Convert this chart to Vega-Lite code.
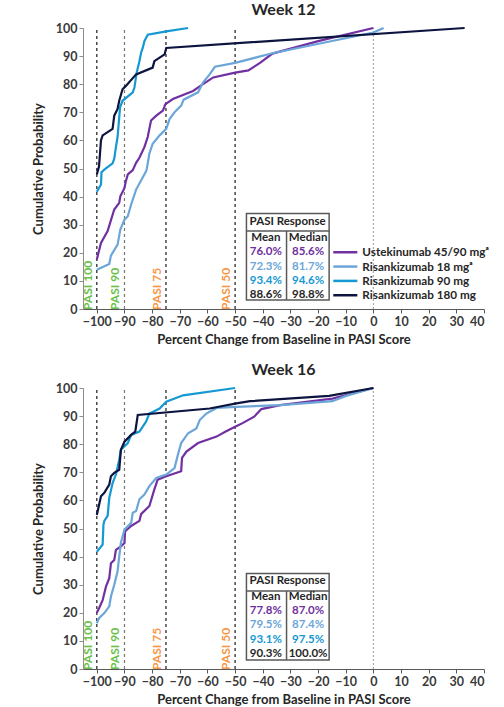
{
  "$schema": "https://vega.github.io/schema/vega-lite/v6.json",
  "padding": {"left": 32, "top": 2, "right": 5, "bottom": 2},
  "spacing": 15,
  "config": {
    "view": {"stroke": null},
    "font": "Lato",
    "axis": {"grid": false, "labelFont": "Lato", "labelFontWeight": "bold", "labelFontSize": 12.5, "labelColor": "#3a3a3a", "titleFont": "Lato", "titleFontWeight": "bold", "titleFontSize": 13, "titleColor": "#262626", "domainColor": "#595959", "tickColor": "#595959", "tickSize": 4, "labelPadding": 2},
    "axisX": {"tickCount": 15, "titlePadding": 6},
    "axisY": {"tickCount": 10, "domainColor": "#8c8c8c", "tickColor": "#8c8c8c", "titlePadding": 10},
    "title": {"font": "Lato", "fontSize": 16, "fontWeight": "bold", "color": "#262626", "anchor": "middle"}
  },
  "datasets": {
    "refs": [
      {"x": -100, "y": 0, "y2": 100, "k": "PASI 100"},
      {"x": -90, "y": 0, "y2": 100, "k": "PASI 90"},
      {"x": -75, "y": 0, "y2": 100, "k": "PASI 75"},
      {"x": -50, "y": 0, "y2": 100, "k": "PASI 50"},
      {"x": 0, "y": 0, "y2": 100, "k": "zero"}
    ],
    "box": [{"x": -45.9, "x2": -16, "y": 3.2, "y2": 34}],
    "seps": [
      {"x": -45.9, "x2": -16, "y": 27.8, "y2": 27.8},
      {"x": -31.4, "x2": -31.4, "y": 3.2, "y2": 27.8}
    ],
    "table": [
      {"w": 12, "k": "H", "x": -31, "y": 30.9, "t": "PASI Response"},
      {"w": 12, "k": "H", "x": -38.9, "y": 25.3, "t": "Mean"},
      {"w": 12, "k": "H", "x": -23.6, "y": 25.3, "t": "Median"},
      {"w": 12, "k": "U", "x": -38.9, "y": 20.2, "t": "76.0%"},
      {"w": 12, "k": "U", "x": -23.6, "y": 20.2, "t": "85.6%"},
      {"w": 12, "k": "R18", "x": -38.9, "y": 15.1, "t": "72.3%"},
      {"w": 12, "k": "R18", "x": -23.6, "y": 15.1, "t": "81.7%"},
      {"w": 12, "k": "R90", "x": -38.9, "y": 10.0, "t": "93.4%"},
      {"w": 12, "k": "R90", "x": -23.6, "y": 10.0, "t": "94.6%"},
      {"w": 12, "k": "R180", "x": -38.9, "y": 4.9, "t": "88.6%"},
      {"w": 12, "k": "R180", "x": -23.6, "y": 4.9, "t": "98.8%"},
      {"w": 16, "k": "H", "x": -31, "y": 31.3, "t": "PASI Response"},
      {"w": 16, "k": "H", "x": -38.9, "y": 25.7, "t": "Mean"},
      {"w": 16, "k": "H", "x": -23.6, "y": 25.7, "t": "Median"},
      {"w": 16, "k": "U", "x": -38.9, "y": 20.6, "t": "77.8%"},
      {"w": 16, "k": "U", "x": -23.6, "y": 20.6, "t": "87.0%"},
      {"w": 16, "k": "R18", "x": -38.9, "y": 15.5, "t": "79.5%"},
      {"w": 16, "k": "R18", "x": -23.6, "y": 15.5, "t": "87.4%"},
      {"w": 16, "k": "R90", "x": -38.9, "y": 10.4, "t": "93.1%"},
      {"w": 16, "k": "R90", "x": -23.6, "y": 10.4, "t": "97.5%"},
      {"w": 16, "k": "R180", "x": -38.9, "y": 5.3, "t": "90.3%"},
      {"w": 16, "k": "R180", "x": -23.6, "y": 5.3, "t": "100.0%"}
    ],
    "legend": [
      {"g": "U", "x": -14.5, "x2": -5.8, "y": 20.2, "t": "Ustekinumab 45/90 mgᵃ"},
      {"g": "R18", "x": -14.5, "x2": -5.8, "y": 15.1, "t": "Risankizumab 18 mgᵃ"},
      {"g": "R90", "x": -14.5, "x2": -5.8, "y": 10.0, "t": "Risankizumab  90 mg"},
      {"g": "R180", "x": -14.5, "x2": -5.8, "y": 4.9, "t": "Risankizumab 180 mg"}
    ],
    "curves": [
      {"w":12,"g":"U","x":-100,"y":17.6},{"w":12,"g":"U","x":-99.4,"y":20},{"w":12,"g":"U","x":-98.5,"y":23.5},{"w":12,"g":"U","x":-96.1,"y":27.7},{"w":12,"g":"U","x":-93.7,"y":35.4},{"w":12,"g":"U","x":-91.9,"y":37.8},{"w":12,"g":"U","x":-91.5,"y":40.1},{"w":12,"g":"U","x":-90,"y":43.1},{"w":12,"g":"U","x":-89.5,"y":45.5},{"w":12,"g":"U","x":-88.8,"y":47.9},{"w":12,"g":"U","x":-87,"y":49.4},{"w":12,"g":"U","x":-85.8,"y":52},{"w":12,"g":"U","x":-84.6,"y":53.8},{"w":12,"g":"U","x":-82.8,"y":57.6},{"w":12,"g":"U","x":-81.6,"y":61.2},{"w":12,"g":"U","x":-80.4,"y":67.1},{"w":12,"g":"U","x":-78.5,"y":68.8},{"w":12,"g":"U","x":-76.1,"y":70.6},{"w":12,"g":"U","x":-75.2,"y":72.9},{"w":12,"g":"U","x":-72.5,"y":74.7},{"w":12,"g":"U","x":-65.2,"y":77.6},{"w":12,"g":"U","x":-61.6,"y":80},{"w":12,"g":"U","x":-57.9,"y":82.4},{"w":12,"g":"U","x":-50,"y":84.1},{"w":12,"g":"U","x":-45.2,"y":84.9},{"w":12,"g":"U","x":-41,"y":87.6},{"w":12,"g":"U","x":-36.5,"y":90.9},{"w":12,"g":"U","x":-19.6,"y":95.4},{"w":12,"g":"U","x":0,"y":100},
      {"w":12,"g":"R18","x":-100,"y":14},{"w":12,"g":"R18","x":-95.5,"y":16},{"w":12,"g":"R18","x":-94.9,"y":19},{"w":12,"g":"R18","x":-92.5,"y":22.9},{"w":12,"g":"R18","x":-91.5,"y":28.3},{"w":12,"g":"R18","x":-90,"y":31.8},{"w":12,"g":"R18","x":-88.8,"y":33},{"w":12,"g":"R18","x":-87.6,"y":37.2},{"w":12,"g":"R18","x":-85.8,"y":42.5},{"w":12,"g":"R18","x":-82.2,"y":49},{"w":12,"g":"R18","x":-81.9,"y":50},{"w":12,"g":"R18","x":-81,"y":55.3},{"w":12,"g":"R18","x":-79.8,"y":58.8},{"w":12,"g":"R18","x":-77.3,"y":61.8},{"w":12,"g":"R18","x":-74.9,"y":64.1},{"w":12,"g":"R18","x":-73.7,"y":67.6},{"w":12,"g":"R18","x":-71.9,"y":70},{"w":12,"g":"R18","x":-69.5,"y":72.4},{"w":12,"g":"R18","x":-68.6,"y":74.5},{"w":12,"g":"R18","x":-63.4,"y":77.1},{"w":12,"g":"R18","x":-61.6,"y":80.6},{"w":12,"g":"R18","x":-59.2,"y":83.5},{"w":12,"g":"R18","x":-57.3,"y":86.2},{"w":12,"g":"R18","x":-50,"y":87.6},{"w":12,"g":"R18","x":-36.5,"y":91},{"w":12,"g":"R18","x":0,"y":98.4},{"w":12,"g":"R18","x":3.7,"y":100},
      {"w":12,"g":"R90","x":-100,"y":41.7},{"w":12,"g":"R90","x":-98.5,"y":44.3},{"w":12,"g":"R90","x":-98.3,"y":48.7},{"w":12,"g":"R90","x":-97.3,"y":49.6},{"w":12,"g":"R90","x":-94.3,"y":51.8},{"w":12,"g":"R90","x":-93.7,"y":53.5},{"w":12,"g":"R90","x":-93.1,"y":57.6},{"w":12,"g":"R90","x":-92.5,"y":61.2},{"w":12,"g":"R90","x":-91.9,"y":68.2},{"w":12,"g":"R90","x":-91.6,"y":71.8},{"w":12,"g":"R90","x":-90.7,"y":74.1},{"w":12,"g":"R90","x":-87,"y":77.1},{"w":12,"g":"R90","x":-86.4,"y":78.8},{"w":12,"g":"R90","x":-85.6,"y":84.1},{"w":12,"g":"R90","x":-84.6,"y":88.2},{"w":12,"g":"R90","x":-84,"y":91.2},{"w":12,"g":"R90","x":-83.4,"y":92.9},{"w":12,"g":"R90","x":-82.8,"y":95.3},{"w":12,"g":"R90","x":-81.6,"y":97.6},{"w":12,"g":"R90","x":-74.9,"y":98.8},{"w":12,"g":"R90","x":-67,"y":100},
      {"w":12,"g":"R180","x":-100,"y":47.9},{"w":12,"g":"R180","x":-99.2,"y":50.8},{"w":12,"g":"R180","x":-98.5,"y":60},{"w":12,"g":"R180","x":-97.9,"y":61.8},{"w":12,"g":"R180","x":-94.3,"y":64.1},{"w":12,"g":"R180","x":-93.7,"y":68.8},{"w":12,"g":"R180","x":-92.5,"y":71.2},{"w":12,"g":"R180","x":-91.9,"y":74.1},{"w":12,"g":"R180","x":-90.7,"y":78.2},{"w":12,"g":"R180","x":-89.5,"y":79.4},{"w":12,"g":"R180","x":-85.8,"y":83.5},{"w":12,"g":"R180","x":-79.8,"y":85.9},{"w":12,"g":"R180","x":-79.2,"y":88.2},{"w":12,"g":"R180","x":-75.5,"y":90.6},{"w":12,"g":"R180","x":-74.9,"y":92.9},{"w":12,"g":"R180","x":33,"y":100},
      {"w":16,"g":"U","x":-100,"y":20},{"w":16,"g":"U","x":-99.2,"y":21.6},{"w":16,"g":"U","x":-97.9,"y":24.5},{"w":16,"g":"U","x":-96.7,"y":29.3},{"w":16,"g":"U","x":-95.5,"y":32.3},{"w":16,"g":"U","x":-94.9,"y":37.6},{"w":16,"g":"U","x":-93.7,"y":38.8},{"w":16,"g":"U","x":-93.1,"y":42.4},{"w":16,"g":"U","x":-91.3,"y":43.6},{"w":16,"g":"U","x":-90,"y":44.8},{"w":16,"g":"U","x":-89.8,"y":49},{"w":16,"g":"U","x":-87.6,"y":50.9},{"w":16,"g":"U","x":-84.6,"y":52.7},{"w":16,"g":"U","x":-84,"y":55.1},{"w":16,"g":"U","x":-81,"y":58},{"w":16,"g":"U","x":-79.2,"y":63.9},{"w":16,"g":"U","x":-78,"y":67.4},{"w":16,"g":"U","x":-74.9,"y":68.6},{"w":16,"g":"U","x":-69.5,"y":70.4},{"w":16,"g":"U","x":-69.2,"y":75.1},{"w":16,"g":"U","x":-67.6,"y":77.4},{"w":16,"g":"U","x":-63.4,"y":80.4},{"w":16,"g":"U","x":-56.7,"y":82.7},{"w":16,"g":"U","x":-53.4,"y":84.5},{"w":16,"g":"U","x":-50,"y":86.2},{"w":16,"g":"U","x":-47.3,"y":87.5},{"w":16,"g":"U","x":-43.1,"y":89.8},{"w":16,"g":"U","x":-40.5,"y":92.5},{"w":16,"g":"U","x":-33.7,"y":93.9},{"w":16,"g":"U","x":-14.8,"y":96.2},{"w":16,"g":"U","x":0,"y":100},
      {"w":16,"g":"R18","x":-100,"y":16.3},{"w":16,"g":"R18","x":-99.2,"y":18.1},{"w":16,"g":"R18","x":-97.3,"y":19.9},{"w":16,"g":"R18","x":-95.5,"y":22.3},{"w":16,"g":"R18","x":-94.9,"y":25.8},{"w":16,"g":"R18","x":-93.7,"y":30},{"w":16,"g":"R18","x":-92.5,"y":34.8},{"w":16,"g":"R18","x":-91.9,"y":40.1},{"w":16,"g":"R18","x":-91.3,"y":44.9},{"w":16,"g":"R18","x":-90,"y":49.6},{"w":16,"g":"R18","x":-87.6,"y":52},{"w":16,"g":"R18","x":-87,"y":55.6},{"w":16,"g":"R18","x":-85.8,"y":56.2},{"w":16,"g":"R18","x":-84.6,"y":60.4},{"w":16,"g":"R18","x":-82.8,"y":62.1},{"w":16,"g":"R18","x":-81,"y":65.1},{"w":16,"g":"R18","x":-78.5,"y":68},{"w":16,"g":"R18","x":-74.9,"y":69.2},{"w":16,"g":"R18","x":-71.9,"y":71.5},{"w":16,"g":"R18","x":-70.7,"y":76.2},{"w":16,"g":"R18","x":-69.5,"y":80.4},{"w":16,"g":"R18","x":-67,"y":83.9},{"w":16,"g":"R18","x":-64,"y":85.6},{"w":16,"g":"R18","x":-62.8,"y":88.6},{"w":16,"g":"R18","x":-60.4,"y":90.9},{"w":16,"g":"R18","x":-56.7,"y":92.9},{"w":16,"g":"R18","x":-49.5,"y":93.3},{"w":16,"g":"R18","x":-33.7,"y":93.9},{"w":16,"g":"R18","x":-14.8,"y":95.3},{"w":16,"g":"R18","x":-9.9,"y":97.2},{"w":16,"g":"R18","x":0,"y":100},
      {"w":16,"g":"R90","x":-100,"y":41.7},{"w":16,"g":"R90","x":-97.9,"y":44.3},{"w":16,"g":"R90","x":-97.6,"y":51.4},{"w":16,"g":"R90","x":-97.3,"y":52.7},{"w":16,"g":"R90","x":-96.1,"y":54.5},{"w":16,"g":"R90","x":-95.5,"y":60.9},{"w":16,"g":"R90","x":-94.3,"y":66.2},{"w":16,"g":"R90","x":-93.1,"y":69.2},{"w":16,"g":"R90","x":-91.9,"y":74.5},{"w":16,"g":"R90","x":-91.3,"y":78},{"w":16,"g":"R90","x":-88.8,"y":80.4},{"w":16,"g":"R90","x":-87.6,"y":83.3},{"w":16,"g":"R90","x":-84.6,"y":84.5},{"w":16,"g":"R90","x":-82.2,"y":88},{"w":16,"g":"R90","x":-81,"y":90.9},{"w":16,"g":"R90","x":-77.3,"y":92.7},{"w":16,"g":"R90","x":-74.9,"y":95.1},{"w":16,"g":"R90","x":-68.8,"y":97.4},{"w":16,"g":"R90","x":-50,"y":100},
      {"w":16,"g":"R180","x":-100,"y":54.8},{"w":16,"g":"R180","x":-98.5,"y":61.5},{"w":16,"g":"R180","x":-97.3,"y":62.7},{"w":16,"g":"R180","x":-95.5,"y":65.6},{"w":16,"g":"R180","x":-94.9,"y":68.6},{"w":16,"g":"R180","x":-93.7,"y":69.8},{"w":16,"g":"R180","x":-91.9,"y":70.9},{"w":16,"g":"R180","x":-91.3,"y":78},{"w":16,"g":"R180","x":-90,"y":80.9},{"w":16,"g":"R180","x":-87.6,"y":83.3},{"w":16,"g":"R180","x":-86.1,"y":84.5},{"w":16,"g":"R180","x":-85.2,"y":90.4},{"w":16,"g":"R180","x":-59.2,"y":92.7},{"w":16,"g":"R180","x":-49.5,"y":94.5},{"w":16,"g":"R180","x":-44.6,"y":95.3},{"w":16,"g":"R180","x":-16,"y":97.2},{"w":16,"g":"R180","x":0,"y":100}
    ]
  },
  "vconcat": [
    {
      "title": "Week 12",
      "width": 401,
      "height": 281,
      "encoding": {
        "x": {"field": "x", "type": "quantitative", "title": "Percent Change from Baseline in PASI Score", "scale": {"domain": [-105, 40], "nice": false, "zero": false}},
        "y": {"field": "y", "type": "quantitative", "title": "Cumulative Probability", "scale": {"domain": [0, 100], "nice": false}}
      },
      "layer": [
        {"data": {"name": "refs"}, "transform": [{"filter": "datum.x == -100 || datum.x == -75 || datum.x == -50"}], "mark": {"type": "rule", "color": "#1a1a1a", "strokeDash": [3, 3], "strokeWidth": 1.2}, "encoding": {"y2": {"field": "y2"}}},
        {"data": {"name": "refs"}, "transform": [{"filter": "datum.x == -90"}], "mark": {"type": "rule", "color": "#777777", "strokeDash": [3, 3], "strokeWidth": 1.2}, "encoding": {"y2": {"field": "y2"}}},
        {"data": {"name": "refs"}, "transform": [{"filter": "datum.x == 0"}], "mark": {"type": "rule", "color": "#aaaaaa", "strokeDash": [2, 2], "strokeWidth": 1.2}, "encoding": {"y2": {"field": "y2"}}},
        {"data": {"name": "refs"}, "transform": [{"filter": "datum.x != 0"}], "mark": {"type": "text", "angle": 270, "align": "left", "baseline": "bottom", "dx": -1, "dy": -2, "fontSize": 12, "fontWeight": "bold", "font": "Lato"}, "encoding": {"text": {"field": "k"}, "fill": {"field": "k", "scale": {"domain": ["U", "R18", "R90", "R180", "H", "PASI 100", "PASI 90", "PASI 75", "PASI 50"], "range": ["#7030A0", "#6CA6D9", "#1598D3", "#262626", "#262626", "#6CC04A", "#6CC04A", "#F79646", "#F79646"]}, "legend": null}}},
        {"data": {"name": "curves"}, "transform": [{"filter": "datum.w == 12"}], "mark": {"type": "line", "strokeWidth": 2.2}, "encoding": {"stroke": {"field": "g", "scale": {"domain": ["U", "R18", "R90", "R180"], "range": ["#7030A0", "#6CA6D9", "#1598D3", "#0D1440"]}, "legend": null}, "order": {"field": "y", "type": "quantitative"}}},
        {"data": {"name": "box"}, "mark": {"type": "rect", "fill": "white", "stroke": "#595959", "strokeWidth": 1.5}, "encoding": {"x2": {"field": "x2"}, "y2": {"field": "y2"}}},
        {"data": {"name": "seps"}, "mark": {"type": "rule", "color": "#595959", "strokeWidth": 1.5}, "encoding": {"x2": {"field": "x2"}, "y2": {"field": "y2"}}},
        {"data": {"name": "table"}, "transform": [{"filter": "datum.w == 12"}], "mark": {"type": "text", "fontSize": 11.5, "fontWeight": "bold", "font": "Lato", "baseline": "middle", "align": "center"}, "encoding": {"text": {"field": "t"}, "fill": {"field": "k", "legend": null}}},
        {"data": {"name": "legend"}, "mark": {"type": "rule", "strokeWidth": 2.5}, "encoding": {"x2": {"field": "x2"}, "stroke": {"field": "g", "legend": null}}},
        {"data": {"name": "legend"}, "mark": {"type": "text", "fontSize": 11.7, "fontWeight": "bold", "font": "Lato", "align": "left", "baseline": "middle", "dx": 5, "color": "#262626"}, "encoding": {"x": {"field": "x2", "type": "quantitative", "title": "Percent Change from Baseline in PASI Score"}, "text": {"field": "t"}}}
      ]
    },
    {
      "title": "Week 16",
      "width": 401,
      "height": 281,
      "encoding": {
        "x": {"field": "x", "type": "quantitative", "title": "Percent Change from Baseline in PASI Score", "scale": {"domain": [-105, 40], "nice": false, "zero": false}},
        "y": {"field": "y", "type": "quantitative", "title": "Cumulative Probability", "scale": {"domain": [0, 100], "nice": false}}
      },
      "layer": [
        {"data": {"name": "refs"}, "transform": [{"filter": "datum.x == -100 || datum.x == -75 || datum.x == -50"}], "mark": {"type": "rule", "color": "#1a1a1a", "strokeDash": [3, 3], "strokeWidth": 1.2}, "encoding": {"y2": {"field": "y2"}}},
        {"data": {"name": "refs"}, "transform": [{"filter": "datum.x == -90"}], "mark": {"type": "rule", "color": "#777777", "strokeDash": [3, 3], "strokeWidth": 1.2}, "encoding": {"y2": {"field": "y2"}}},
        {"data": {"name": "refs"}, "transform": [{"filter": "datum.x == 0"}], "mark": {"type": "rule", "color": "#aaaaaa", "strokeDash": [2, 2], "strokeWidth": 1.2}, "encoding": {"y2": {"field": "y2"}}},
        {"data": {"name": "refs"}, "transform": [{"filter": "datum.x != 0"}], "mark": {"type": "text", "angle": 270, "align": "left", "baseline": "bottom", "dx": -1, "dy": -2, "fontSize": 12, "fontWeight": "bold", "font": "Lato"}, "encoding": {"text": {"field": "k"}, "fill": {"field": "k", "scale": {"domain": ["U", "R18", "R90", "R180", "H", "PASI 100", "PASI 90", "PASI 75", "PASI 50"], "range": ["#7030A0", "#6CA6D9", "#1598D3", "#262626", "#262626", "#6CC04A", "#6CC04A", "#F79646", "#F79646"]}, "legend": null}}},
        {"data": {"name": "curves"}, "transform": [{"filter": "datum.w == 16"}], "mark": {"type": "line", "strokeWidth": 2.2}, "encoding": {"stroke": {"field": "g", "scale": {"domain": ["U", "R18", "R90", "R180"], "range": ["#7030A0", "#6CA6D9", "#1598D3", "#0D1440"]}, "legend": null}, "order": {"field": "y", "type": "quantitative"}}},
        {"data": {"name": "box"}, "mark": {"type": "rect", "fill": "white", "stroke": "#595959", "strokeWidth": 1.5}, "encoding": {"x2": {"field": "x2"}, "y2": {"field": "y2"}}},
        {"data": {"name": "seps"}, "mark": {"type": "rule", "color": "#595959", "strokeWidth": 1.5}, "encoding": {"x2": {"field": "x2"}, "y2": {"field": "y2"}}},
        {"data": {"name": "table"}, "transform": [{"filter": "datum.w == 16"}], "mark": {"type": "text", "fontSize": 11.5, "fontWeight": "bold", "font": "Lato", "baseline": "middle", "align": "center"}, "encoding": {"text": {"field": "t"}, "fill": {"field": "k", "legend": null}}}
      ]
    }
  ]
}
